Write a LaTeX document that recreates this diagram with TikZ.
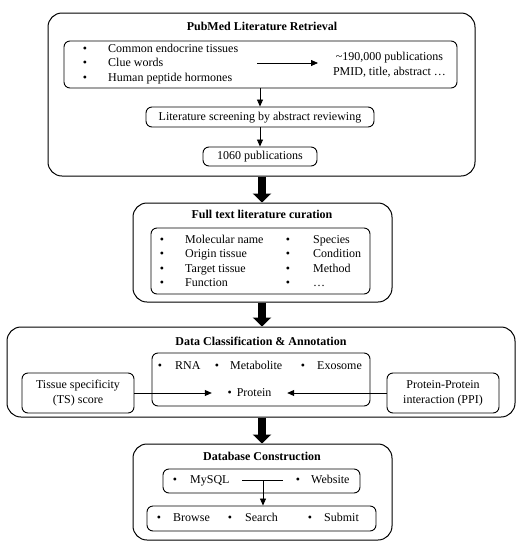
\documentclass[tikz,border=0pt]{standalone}
\usepackage{fontspec}
\setmainfont{Liberation Serif}
\usetikzlibrary{arrows.meta}
\begin{document}
\begin{tikzpicture}[x=1pt,y=-1pt,
  outer/.style={draw, line width=1pt, rounded corners=14pt, inner sep=0pt},
  inner/.style={draw, line width=0.9pt, rounded corners=6pt, inner sep=0pt},
  txt/.style={inner sep=0pt, font=\fontsize{12}{14.5}\selectfont, text height=8.5pt, text depth=2.5pt},
  txtl/.style={txt, anchor=west},
  two/.style={inner sep=0pt, align=center, font=\fontsize{12}{15}\selectfont},
  ttl/.style={txt, font=\fontsize{12}{14.5}\selectfont\bfseries},
  arr/.style={-{Triangle[length=7pt,width=6pt]}, line width=0.8pt},
  big/.style={line width=8pt, -{Triangle[length=9pt,width=18pt]}}
]
\useasboundingbox (0,0) rectangle (526,550);

% ---- Box 1
\node[outer, minimum width=427pt, minimum height=163pt] (b1) at (261.5,94.5) {};
\node[ttl] (t1) at (262,27) {PubMed Literature Retrieval};
\node[inner, minimum width=393pt, minimum height=47pt] (a1) at (260.5,64.5) {};
\node[txt] (a1b1) at (85,49) {\textbullet};
\node[txt] (a1b2) at (85,63.5) {\textbullet};
\node[txt] (a1b3) at (85,78) {\textbullet};
\node[txtl] (a1t1) at (108,49) {Common endocrine tissues};
\node[txtl] (a1t2) at (108,63.5) {Clue words};
\node[txtl] (a1t3) at (108,78) {Human peptide hormones};
\node[two] (res) at (389.5,64.5) {\textasciitilde190,000 publications\\PMID, title, abstract …};
\coordinate (a1s) at (257,63);
\coordinate (a1e) at (318,63);
\draw[arr] (a1s) -- (a1e);
\node[inner, minimum width=228pt, minimum height=20pt] (scr) at (260,117) {};
\node[txt] (scrt) at (260,117) {Literature screening by abstract reviewing};
\node[inner, minimum width=114pt, minimum height=19pt] (pub) at (260,156.5) {};
\node[txt] (pubt) at (260,156.5) {1060 publications};
\draw[arr] (a1.south -| scr.north) -- (scr.north);
\draw[arr] (scr.south) -- (pub.north);

% ---- Box 2
\node[outer, minimum width=259pt, minimum height=99pt] (b2) at (262.5,252.5) {};
\node[ttl] (t2) at (262,215) {Full text literature curation};
\node[inner, minimum width=219pt, minimum height=66pt] (a2) at (260.5,261) {};
\foreach \yy/\ta/\tb [count=\i] in {240/Molecular name/Species, 254.5/Origin tissue/Condition, 269/Target tissue/Method, 283.5/Function/…}{
  \node[txt] (c1b\i) at (162,\yy) {\textbullet};
  \node[txtl] (c1t\i) at (185,\yy) {\ta};
  \node[txt] (c2b\i) at (288,\yy) {\textbullet};
  \node[txtl] (c2t\i) at (313,\yy) {\tb};
}
\draw[big] (b1.south -| 262,0) -- (b2.north -| 262,0);

% ---- Box 3
\node[outer, minimum width=508pt, minimum height=90pt] (b3) at (261,372) {};
\node[ttl] (t3) at (261,342) {Data Classification \& Annotation};
\node[inner, minimum width=218pt, minimum height=53pt] (a3) at (261,379.5) {};
\node[txt] (r1b) at (160,366) {\textbullet};
\node[txtl] (r1t) at (175,366) {RNA};
\node[txt] (r2b) at (217,366) {\textbullet};
\node[txtl] (r2t) at (230,366) {Metabolite};
\node[txt] (r3b) at (303,366) {\textbullet};
\node[txtl] (r3t) at (317,366) {Exosome};
\node[txt, minimum width=75pt] (prot) at (249.5,393) {\textbullet\hspace{5pt}Protein};
\node[inner, minimum width=112pt, minimum height=40pt] (ts) at (78,393) {};
\node[two] (tst) at (78,393.5) {Tissue specificity\\(TS) score};
\node[inner, minimum width=112pt, minimum height=40pt] (ppi) at (443,393) {};
\node[two] (ppit) at (443,393.5) {Protein-Protein\\interaction (PPI)};
\draw[arr] (ts.east) -- (prot.west);
\draw[arr] (ppi.west) -- (prot.east);
\draw[big] (b2.south -| 262,0) -- (b3.north -| 262,0);

% ---- Box 4
\node[outer, minimum width=259pt, minimum height=96pt] (b4) at (262.5,492) {};
\node[ttl] (t4) at (262,457) {Database Construction};
\node[inner, minimum width=197pt, minimum height=24pt] (my) at (261.5,481) {};
\node[txt] (myb1) at (175,480) {\textbullet};
\node[txtl] (myt1) at (190,480) {MySQL};
\node[txt] (myb2) at (298,480) {\textbullet};
\node[txtl] (myt2) at (311,480) {Website};
\coordinate (jl) at (242,480);
\coordinate (jr) at (283,480);
\coordinate (jm) at (263,480);
\draw[line width=0.8pt] (jl) -- (jr);
\node[inner, minimum width=229pt, minimum height=25pt] (bs) at (261.5,518.5) {};
\draw[arr] (jm) -- (jm |- bs.north);
\node[txt] (bsb1) at (159,518) {\textbullet};
\node[txtl] (bst1) at (173,518) {Browse};
\node[txt] (bsb2) at (230,518) {\textbullet};
\node[txtl] (bst2) at (245,518) {Search};
\node[txt] (bsb3) at (310,518) {\textbullet};
\node[txtl] (bst3) at (324,518) {Submit};
\draw[big] (b3.south -| 262,0) -- (b4.north -| 262,0);
\end{tikzpicture}
\end{document}
